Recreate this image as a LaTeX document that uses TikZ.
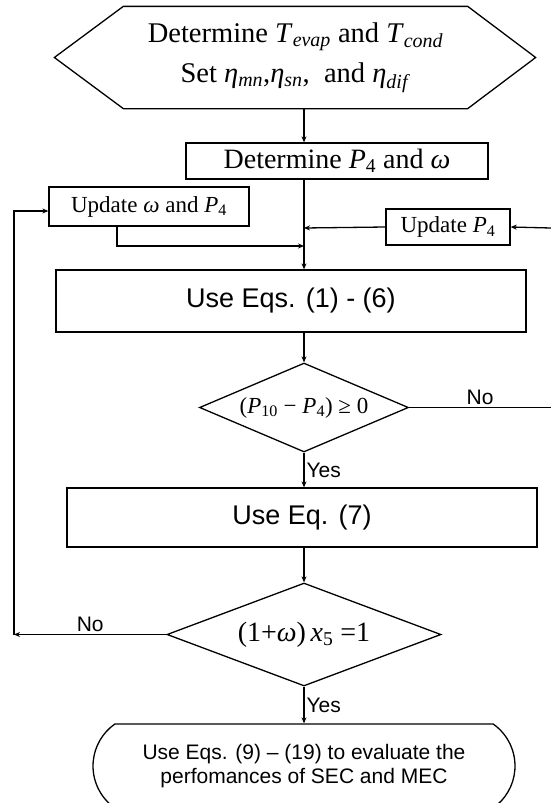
\documentclass[tikz,border=0pt]{standalone}
\usepackage{fontspec}
\setmainfont{Liberation Serif}
\newfontfamily\arialf{Liberation Sans}
\usetikzlibrary{shapes.geometric,shapes.misc,arrows.meta}
\newcommand\vi[1]{\textit{#1}}
\newcommand\sbb[1]{\textsubscript{#1}}
\begin{document}
\begin{tikzpicture}[x=1pt,y=-1pt,line width=1.3pt,
  arr/.style={-{Stealth[length=6pt,width=5pt]}},
  tbox/.style={draw,rectangle,inner sep=0pt,font=\fontsize{28}{32}\selectfont},
  sbox/.style={draw,rectangle,inner sep=0pt,font=\arialf\fontsize{27}{32}\selectfont},
  dec/.style={draw,diamond,inner sep=0pt},
  lbl/.style={font=\arialf\fontsize{21}{24}\selectfont,inner sep=2pt}]
\useasboundingbox (0,0) rectangle (551,803);

% start hexagon
\node[inner sep=0pt,minimum width=343pt,minimum height=101pt,align=center,
      font=\fontsize{28.5}{40}\selectfont] (hex) at (295.5,57.5)
  {Determine \vi{T}\sbb{\vi{evap}} and \vi{T}\sbb{\vi{cond}}\\
   Set \vi{η}\sbb{\vi{mn}},\vi{η}\sbb{\vi{sn}}, \ and \vi{η}\sbb{\vi{dif}}};
\draw (hex.north west) -- (hex.north east) -- ([xshift=68pt]hex.east)
  -- (hex.south east) -- (hex.south west) -- ([xshift=-69pt]hex.west) -- cycle;

\node[tbox,minimum width=302pt,minimum height=36pt] (det) at (337,161)
  {Determine \vi{P}\sbb{4} and \vi{ω}};
\node[tbox,minimum width=200pt,minimum height=39pt,font=\fontsize{23}{27}\selectfont] (upw) at (149,206.5)
  {Update \vi{ω} and \vi{P}\sbb{4}};
\node[tbox,minimum width=124pt,minimum height=36pt,font=\fontsize{23}{27}\selectfont] (upp) at (448,227)
  {Update \vi{P}\sbb{4}};
\node[sbox,minimum width=470pt,minimum height=62pt] (use1) at (291,301)
  {Use Eqs. (1) - (6)};
\node[dec,aspect=2.4,minimum width=209pt,minimum height=89pt,font=\fontsize{23}{27}\selectfont] (d1) at (304,407.5)
  {(\vi{P}\sbb{10} − \vi{P}\sbb{4}) ≥ 0};
\node[sbox,minimum width=470pt,minimum height=59pt] (eq7) at (302,517.5)
  {Use Eq. (7)};
\node[dec,aspect=2.66,minimum width=274pt,minimum height=103pt,font=\fontsize{28}{32}\selectfont] (d2) at (304,634.5)
  {(1+\vi{ω})\,\vi{x}\sbb{5} =1};
\node[draw,rounded rectangle,rounded rectangle arc length=110,minimum width=422pt,
      minimum height=84pt,inner sep=0pt,align=center,
      font=\arialf\fontsize{21}{24}\selectfont] (fin) at (304,766)
  {Use Eqs. (9) – (19) to evaluate the\\ perfomances of SEC and MEC};

\coordinate (j1) at (304,246);
\coordinate (j2) at (304,228);
\coordinate (r1) at (551,228);
\coordinate (r2) at (551,407.5);
\coordinate (lc) at (14,634.5);

\draw[arr] (hex.south -| d1.north) -- (det.north -| d1.north);
\draw[arr] (det.south -| d1.north) -- (use1.north -| d1.north);
\draw[arr] ([xshift=-32pt]upw.south) |- (j1);
\draw[arr] (upp.west) -- (j2);
\draw[arr] (r1) -- (upp.east);
\draw[arr] (use1.south -| d1.north) -- (d1.north);
\draw (d1.east) -- (r2) node[lbl,midway,above] {No};
\draw[arr] (d1.south) -- (eq7.north -| d1.south) node[lbl,midway,right] {Yes};
\draw[arr] (eq7.south -| d2.north) -- (d2.north);
\draw[arr] (d2.west) -- (lc) node[lbl,midway,above] {No};
\draw[arr] (lc) |- ([yshift=-4.5pt]upw.west);
\draw[arr] (d2.south) -- (fin.north) node[lbl,midway,right] {Yes};
\end{tikzpicture}
\end{document}
